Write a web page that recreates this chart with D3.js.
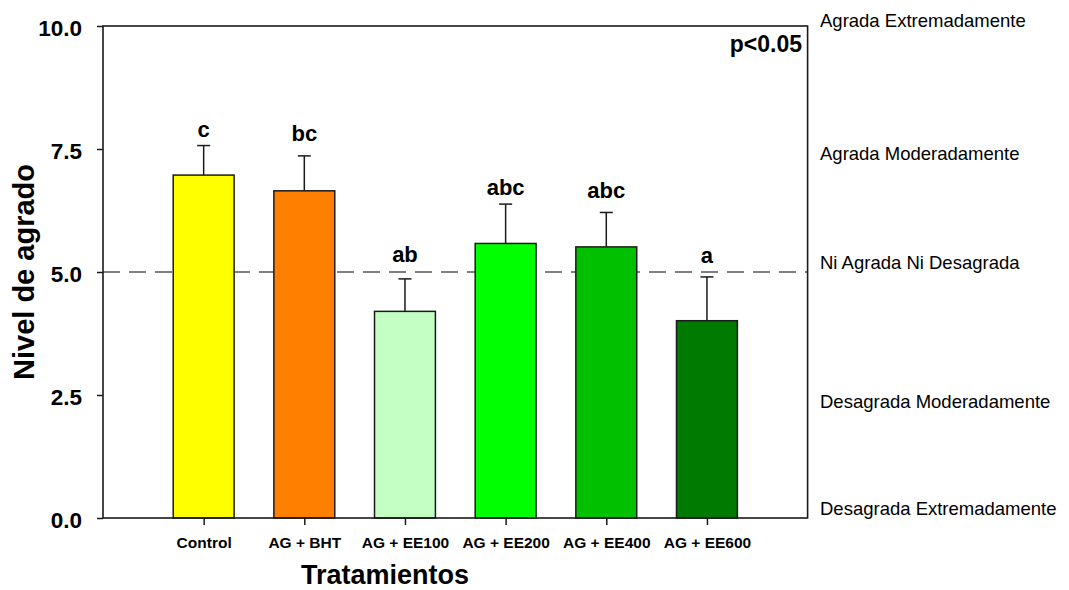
<!DOCTYPE html>
<html>
<head>
<meta charset="utf-8">
<script src="https://cdn.jsdelivr.net/npm/d3@7"></script>
<style>
    body { margin: 0; background: #fff; }
    svg { display: block; font-family: "Liberation Sans", Arial, sans-serif; }
</style>
</head>
<body>
<div id="chart-div"></div>
<script>
//---------------------------------//
// Chart data                      //
//---------------------------------//

var treatments = ['Control', 'AG + BHT', 'AG + EE100', 'AG + EE200', 'AG + EE400', 'AG + EE600'];
var means      = [6.97, 6.65, 4.20, 5.58, 5.51, 4.01];          //Bar heights
var errors     = [0.60, 0.71, 0.66, 0.80, 0.70, 0.89];          //Upper error bar
var letters    = ['c', 'bc', 'ab', 'abc', 'abc', 'a'];          //Significance groups
var letterLevel = [7.75, 7.67, 5.21, 6.57, 6.50, 5.18];         //Where each letter sits (y units)
var barColors  = ['#ffff00', '#ff8000', '#c4ffc4', '#00ff00', '#00c000', '#007a00'];

var yTicks = [0, 2.5, 5, 7.5, 10];
var refLevel = 5;                                               //Dashed "neutral" line

var scaleLabels = ['Agrada Extremadamente', 'Agrada Moderadamente', 'Ni Agrada Ni Desagrada',
                   'Desagrada Moderadamente', 'Desagrada Extremadamente'];
var scaleLevels = [9.98, 7.28, 5.06, 2.24, 0.06];               //Baseline of each hedonic label

window.Chart = window.Chart || {};

Chart.init = function() {
    Chart.setup.initConsts();
    Chart.setup.initSvg();
    Chart.setup.initScales();

    Chart.draw.axes();
    Chart.draw.refLine();
    Chart.draw.bars();
    Chart.draw.errorBars();
    Chart.draw.labels();
    Chart.draw.frame();
};

Chart.setup = {
    initConsts: function() {
        Chart.width = 1069;
        Chart.height = 590;

        Chart.left = 103;           //Plot box
        Chart.right = 807.6;
        Chart.top = 26;
        Chart.bottom = 518;

        Chart.barFrac = 0.605;      //Bar width as part of a step
        Chart.capW = 13;            //Error bar cap width
        Chart.ink = '#1a1a1a';
    },

    initSvg: function() {
        Chart.svg = d3.select('#chart-div')
                      .append('svg')
                        .attr('width', Chart.width)
                        .attr('height', Chart.height);
    },

    initScales: function() {
        Chart.x = d3.scalePoint()
                    .domain(treatments)
                    .range([Chart.left, Chart.right])
                    .padding(1);
        Chart.y = d3.scaleLinear()
                    .domain([0, 10])
                    .range([Chart.bottom, Chart.top]);
        Chart.barW = Chart.x.step() * Chart.barFrac;
    }
};

Chart.draw = {
    axes: function() {
        var yAxis = d3.axisLeft(Chart.y)
                      .tickValues(yTicks)
                      .tickFormat(d3.format('.1f'))
                      .tickSize(6)
                      .tickSizeOuter(0)
                      .tickPadding(15);
        var gy = Chart.svg.append('g')
                    .attr('transform', 'translate(' + Chart.left + ',0)')
                    .call(yAxis);
        gy.select('.domain').remove();
        gy.selectAll('line').attr('stroke', Chart.ink).attr('stroke-width', 1.5);
        gy.selectAll('text')
          .attr('dy', '0.4em')
          .attr('fill', '#000')
          .style('font-size', '22.5px')
          .style('font-weight', 'bold');

        var xAxis = d3.axisBottom(Chart.x)
                      .tickSize(7)
                      .tickSizeOuter(0)
                      .tickPadding(12);
        var gx = Chart.svg.append('g')
                    .attr('transform', 'translate(0,' + Chart.bottom + ')')
                    .call(xAxis);
        gx.select('.domain').remove();
        gx.selectAll('line').attr('stroke', Chart.ink).attr('stroke-width', 1.5);
        gx.selectAll('text')
          .attr('fill', '#000')
          .style('font-size', '15.5px')
          .style('font-weight', 'bold');

        // axis titles
        Chart.svg.append('text')
            .attr('x', 385).attr('y', 584)
            .attr('text-anchor', 'middle')
            .style('font-size', '27px').style('font-weight', 'bold')
            .text('Tratamientos');

        Chart.svg.append('text')
            .attr('transform', 'translate(34,' + (Chart.top + Chart.bottom) / 2 + ') rotate(-90)')
            .attr('text-anchor', 'middle')
            .style('font-size', '29px').style('font-weight', 'bold')
            .text('Nivel de agrado');
    },

    refLine: function() {
        Chart.svg.append('line')
            .attr('x1', Chart.left).attr('x2', Chart.right)
            .attr('y1', Chart.y(refLevel)).attr('y2', Chart.y(refLevel))
            .attr('stroke', '#555')
            .attr('stroke-width', 1.3)
            .attr('stroke-dasharray', '17,9');
    },

    bars: function() {
        Chart.svg.append('g').selectAll('rect')
            .data(treatments)
            .join('rect')
              .attr('x', function(d) { return Chart.x(d) - Chart.barW / 2; })
              .attr('y', function(d, i) { return Chart.y(means[i]); })
              .attr('width', Chart.barW)
              .attr('height', function(d, i) { return Chart.y(0) - Chart.y(means[i]); })
              .attr('fill', function(d, i) { return barColors[i]; })
              .attr('stroke', Chart.ink)
              .attr('stroke-width', 1.5);
    },

    errorBars: function() {
        var g = Chart.svg.append('g')
                  .attr('stroke', Chart.ink)
                  .attr('stroke-width', 1.5);

        g.selectAll('.err')
            .data(treatments)
            .join('line')
              .attr('class', 'err')
              .attr('x1', function(d) { return Chart.x(d); })
              .attr('x2', function(d) { return Chart.x(d); })
              .attr('y1', function(d, i) { return Chart.y(means[i]); })
              .attr('y2', function(d, i) { return Chart.y(means[i] + errors[i]); });

        g.selectAll('.cap')
            .data(treatments)
            .join('line')
              .attr('class', 'cap')
              .attr('x1', function(d) { return Chart.x(d) - Chart.capW / 2; })
              .attr('x2', function(d) { return Chart.x(d) + Chart.capW / 2; })
              .attr('y1', function(d, i) { return Chart.y(means[i] + errors[i]); })
              .attr('y2', function(d, i) { return Chart.y(means[i] + errors[i]); });
    },

    labels: function() {
        // significance letters over the bars
        Chart.svg.append('g').selectAll('text')
            .data(treatments)
            .join('text')
              .attr('x', function(d) { return Chart.x(d); })
              .attr('y', function(d, i) { return Chart.y(letterLevel[i]); })
              .attr('text-anchor', 'middle')
              .style('font-size', '22px').style('font-weight', 'bold')
              .text(function(d, i) { return letters[i]; });

        // hedonic scale on the right
        Chart.svg.append('g').selectAll('text')
            .data(scaleLabels)
            .join('text')
              .attr('x', 820)
              .attr('y', function(d, i) { return Chart.y(scaleLevels[i]); })
              .style('font-size', '18.5px')
              .text(function(d) { return d; });

        Chart.svg.append('text')
            .attr('x', 802).attr('y', 52)
            .attr('text-anchor', 'end')
            .style('font-size', '23px').style('font-weight', 'bold')
            .text('p<0.05');
    },

    frame: function() {
        Chart.svg.append('rect')
            .attr('x', Chart.left).attr('y', Chart.top)
            .attr('width', Chart.right - Chart.left)
            .attr('height', Chart.bottom - Chart.top)
            .attr('fill', 'none')
            .attr('stroke', Chart.ink)
            .attr('stroke-width', 1.6);
    }
};

document.addEventListener('DOMContentLoaded', Chart.init);
</script>
</body>
</html>
